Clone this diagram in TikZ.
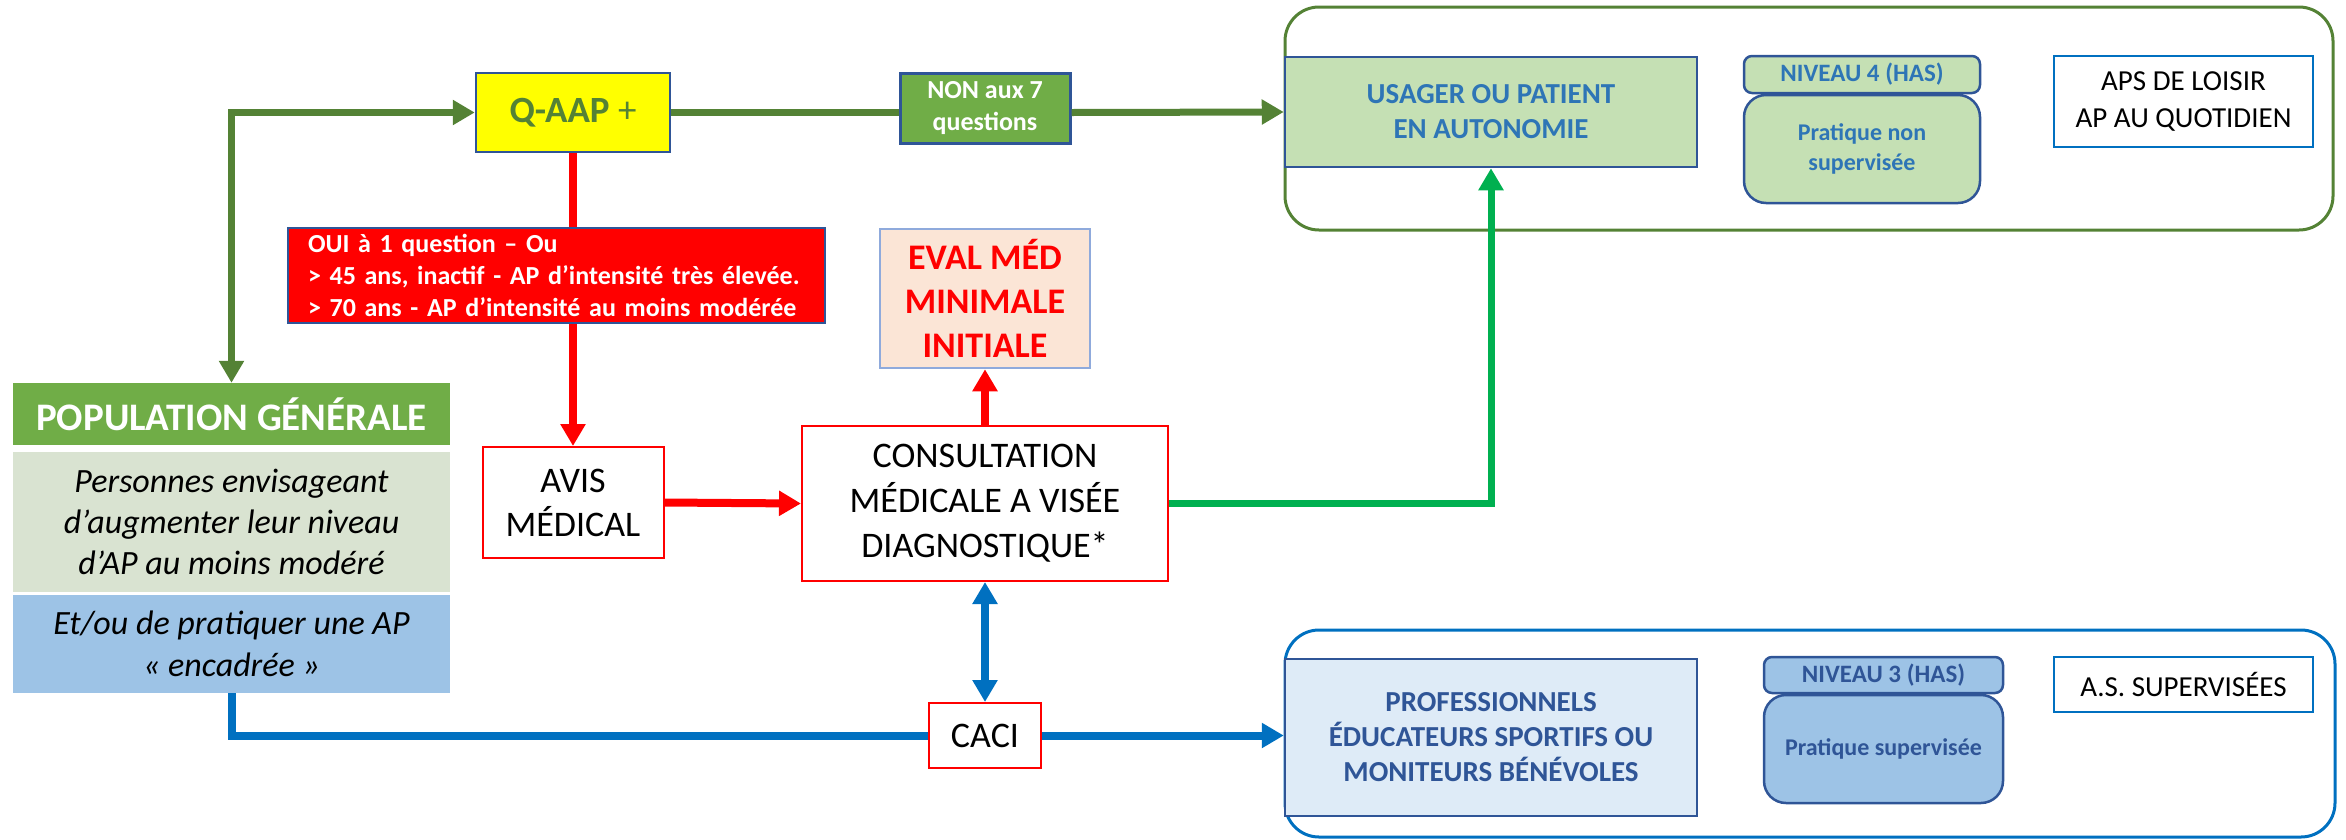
\documentclass[tikz,border=0pt]{standalone}
\usepackage{fontspec}
\setmainfont{Carlito}
\usetikzlibrary{arrows.meta}
\definecolor{dkgreen}{HTML}{548235}
\definecolor{accgreen}{HTML}{70AD47}
\definecolor{ltgreen}{HTML}{C5E0B4}
\definecolor{pgreen}{HTML}{D9E3D1}
\definecolor{brgreen}{HTML}{00B050}
\definecolor{dkblue}{HTML}{2F5597}
\definecolor{mdblue}{HTML}{2E75B6}
\definecolor{lnblue}{HTML}{0070C0}
\definecolor{skyblue}{HTML}{9DC3E6}
\definecolor{paleblue}{HTML}{DEEBF7}
\definecolor{lavblue}{HTML}{8FAADC}
\definecolor{pred}{HTML}{FF0000}
\definecolor{peach}{HTML}{FBE5D6}
\definecolor{pyellow}{HTML}{FFFF00}
\begin{document}
\begin{tikzpicture}[x=1pt,y=-1pt,
  >={Triangle[length=22pt,width=24pt]},
  bx/.style={rectangle, inner sep=0pt, align=center},
  redbx/.style={bx, draw=pred, fill=white, line width=2pt, font=\fontsize{36}{44}\selectfont},
  hdr/.style={bx, rounded corners=8pt, line width=2.5pt, draw=dkblue, font=\fontsize{25}{30}\selectfont\bfseries},
  pract/.style={bx, rounded corners=22pt, line width=2.5pt, draw=dkblue, font=\fontsize{24}{30}\selectfont\bfseries},
  whitebx/.style={bx, draw=lnblue, fill=white, line width=2pt, font=\fontsize{29}{37}\selectfont},
  gline/.style={line width=7pt, draw=dkgreen},
  rline/.style={line width=8pt, draw=pred},
  bline/.style={line width=8pt, draw=lnblue},
  g2line/.style={line width=7pt, draw=brgreen},
  grp/.style={rounded corners=34pt, line width=3pt}
]
\useasboundingbox (0,0) rectangle (2346,839);

% group containers
\draw[grp, draw=dkgreen] (1285,7) rectangle (2333,230);
\draw[grp, draw=lnblue] (1285,630) rectangle (2335,837);

% left column
\node[bx, fill=accgreen, minimum width=437pt, minimum height=62pt, text=white,
  font=\fontsize{39}{46}\selectfont\bfseries] (pop) at (231.5,414) {POPULATION GÉNÉRALE};
\node[bx, fill=pgreen, minimum width=437pt, minimum height=140pt,
  font=\fontsize{34}{41}\selectfont\itshape] (pers) at (231.5,522)
  {Personnes envisageant\\d’augmenter leur niveau\\d’AP au moins modéré};
\node[bx, fill=skyblue, minimum width=437pt, minimum height=98pt,
  font=\fontsize{34}{42}\selectfont\itshape] (etou) at (231.5,644)
  {Et/ou de pratiquer une AP\\« encadrée »};

% top flow
\node[bx, fill=pyellow, draw=dkblue, line width=2.5pt, minimum width=194pt, minimum height=79pt,
  text=dkgreen, font=\fontsize{37}{44}\selectfont] (qaap) at (573,112.5) {\textbf{Q-AAP} +};
\node[bx, fill=accgreen, draw=dkblue, line width=3pt, minimum width=170pt, minimum height=70pt,
  text=white, font=\fontsize{26}{32}\selectfont\bfseries] (non) at (985,108) {NON aux 7\\questions};
\node[bx, fill=pred, draw=dkblue, line width=2.5pt, minimum width=537pt, minimum height=95pt,
  text width=497pt, align=left, text=white, font=\fontsize{26}{32}\selectfont\bfseries] (oui) at (556.5,275.5)
  {OUI à 1 question – Ou\\> 45 ans, inactif - AP d’intensité très élevée.\\> 70 ans - AP d’intensité au moins modérée};
\node[bx, fill=peach, draw=lavblue, line width=2.5pt, minimum width=210pt, minimum height=139pt,
  text=pred, font=\fontsize{36}{44}\selectfont\bfseries] (eval) at (985,298.5) {EVAL MÉD\\MINIMALE\\INITIALE};

% middle
\node[redbx, minimum width=181pt, minimum height=111pt] (avis) at (573,502.5) {AVIS\\MÉDICAL};
\node[redbx, minimum width=366pt, minimum height=155pt, font=\fontsize{36}{45}\selectfont] (consult) at (985,503.5)
  {CONSULTATION\\MÉDICALE A VISÉE\\DIAGNOSTIQUE*};
\node[redbx, minimum width=112pt, minimum height=65pt] (caci) at (985,735.5) {CACI};

% top right group
\node[bx, fill=ltgreen, draw=dkblue, line width=2.5pt, minimum width=412pt, minimum height=110pt,
  text=mdblue, font=\fontsize{29}{35}\selectfont\bfseries] (usager) at (1491,112) {USAGER OU PATIENT\\EN AUTONOMIE};
\node[hdr, fill=ltgreen, text=mdblue, minimum width=236pt, minimum height=37pt] (niv4) at (1862,74.5) {NIVEAU 4 (HAS)};
\node[pract, fill=ltgreen, text=mdblue, minimum width=236pt, minimum height=108pt] (pns) at (1862,149) {Pratique non\\supervisée};
\node[whitebx, minimum width=259pt, minimum height=91pt] (aps) at (2183.5,101.5) {APS DE LOISIR\\AP AU QUOTIDIEN};

% bottom right group
\node[bx, fill=paleblue, draw=dkblue, line width=2.5pt, minimum width=412pt, minimum height=157pt,
  text=dkblue, font=\fontsize{29}{35}\selectfont\bfseries] (prof) at (1491,737.5)
  {PROFESSIONNELS\\ÉDUCATEURS SPORTIFS OU\\MONITEURS BÉNÉVOLES};
\node[hdr, fill=skyblue, text=dkblue, minimum width=239pt, minimum height=36pt] (niv3) at (1883.5,675) {NIVEAU 3 (HAS)};
\node[pract, fill=skyblue, text=dkblue, minimum width=239pt, minimum height=108pt] (ps) at (1883.5,749) {Pratique supervisée};
\node[whitebx, minimum width=259pt, minimum height=55pt] (as) at (2183.5,684.5) {A.S. SUPERVISÉES};

% connectors
\draw[gline,<->] (pop.north) |- (qaap.west);
\draw[gline] (qaap.east) -- (qaap.east -| non.west);
\draw[gline,->] (qaap.east -| non.east) -- (usager.west);
\draw[rline] (qaap.south) -- (qaap.south |- oui.north);
\draw[rline,->] (qaap.south |- oui.south) -- (avis.north);
\draw[rline,->] (avis.east) -- (consult.west);
\draw[rline,->] (consult.north) -- (eval.south);
\draw[g2line,->] (consult.east) -| (usager.south);
\draw[bline,<->] (consult.south) -- (caci.north);
\draw[bline] (etou.south) |- (caci.west);
\draw[bline,->] (caci.east) -- (caci.east -| prof.west);
\end{tikzpicture}
\end{document}
